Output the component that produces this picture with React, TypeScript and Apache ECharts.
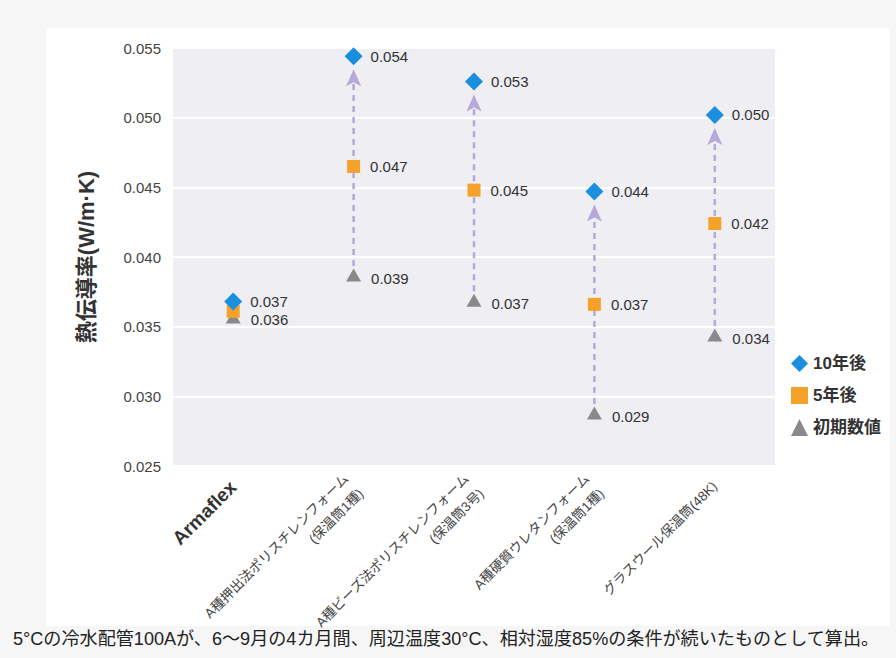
import React, { useEffect, useRef } from "react";
import * as echarts from "echarts";

const categories = [
  "Armaflex",
  "A種押出法ポリスチレンフォーム\n(保温筒1種)",
  "A種ビーズ法ポリスチレンフォーム\n(保温筒3号)",
  "A種硬質ウレタンフォーム\n(保温筒1種)",
  "グラスウール保温筒(48K)",
];
const after10 = [0.0368, 0.0544, 0.0526, 0.0447, 0.0502];
const after5 = [0.0361, 0.0465, 0.0448, 0.0366, 0.0424];
const initial = [0.0357, 0.0387, 0.0369, 0.0288, 0.0344];
const after10Labels = ["0.037", "0.054", "0.053", "0.044", "0.050"];
const after5Labels = ["", "0.047", "0.045", "0.037", "0.042"];
const initialLabels = ["0.036", "0.039", "0.037", "0.029", "0.034"];
const arrowShown = [false, true, true, true, true];
const yMin = 0.025;
const yMax = 0.055;
const yInterval = 0.005;
const seriesNames = ["10年後", "5年後", "初期数値"];
const yAxisName = "熱伝導率(W/m·K)";
const caption =
  "5°Cの冷水配管100Aが、6〜9月の4カ月間、周辺温度30°C、相対湿度85%の条件が続いたものとして算出。";

const FONT = '"Liberation Sans", "Noto Sans CJK JP", sans-serif';
const BLUE = "#1b8fdf";
const ORANGE = "#f6a12a";
const GRAY = "#8a8a8a";
const LAVENDER = "#b6a8da";

export default function App() {
  const ref = useRef<HTMLDivElement>(null);
  useEffect(() => {
    if (!ref.current) return;
    const chart = echarts.init(ref.current, null, { renderer: "svg" });
    const arrowData = categories
      .map((_, i) => [i, initial[i], after10[i]])
      .filter((_, i) => arrowShown[i]);
    const labelOpt = (labels: string[], dist: number, offset?: number[]) => ({
      show: true,
      position: "right",
      distance: dist,
      offset: offset || [0, 0],
      fontSize: 15,
      color: "#333",
      fontFamily: FONT,
      formatter: (p: any) => labels[p.dataIndex],
    });
    chart.setOption({
      animation: false,
      backgroundColor: "#f6f6f6",
      textStyle: { fontFamily: FONT },
      graphic: [
        {
          type: "rect",
          z: -10,
          shape: { x: 46, y: 28, width: 844, height: 598 },
          style: { fill: "#ffffff" },
          silent: true,
        },
        {
          type: "text",
          left: 13,
          top: 630,
          style: {
            text: caption,
            fontSize: 18.1,
            fill: "#222",
            fontFamily: FONT,
          },
        },
      ],
      grid: {
        left: 173,
        top: 48,
        right: 121,
        bottom: 192,
        show: true,
        backgroundColor: "#eeeef3",
        borderWidth: 0,
      },
      legend: {
        orient: "vertical",
        left: 786,
        top: 350,
        itemGap: 15,
        itemWidth: 17,
        itemHeight: 17,
        textStyle: {
          fontSize: 17,
          fontWeight: "bold",
          color: "#333",
          fontFamily: FONT,
        },
        data: [
          { name: seriesNames[0], icon: "diamond" },
          { name: seriesNames[1], icon: "rect" },
          { name: seriesNames[2], icon: "triangle" },
        ],
      },
      xAxis: {
        type: "category",
        data: categories,
        axisLine: { show: false },
        axisTick: { show: false },
        splitLine: { show: false },
        axisLabel: {
          rotate: 45,
          margin: 18,
          interval: 0,
          align: "right",
          verticalAlign: "middle",
          fontSize: 13.5,
          lineHeight: 21,
          color: "#444",
          fontFamily: FONT,
          formatter: (v: string) => (v === "Armaflex" ? "{a|Armaflex}" : v),
          rich: {
            a: {
              fontSize: 19,
              fontWeight: "bold",
              color: "#333",
              fontFamily: FONT,
            },
          },
        },
      },
      yAxis: {
        type: "value",
        min: yMin,
        max: yMax,
        interval: yInterval,
        name: yAxisName,
        nameLocation: "middle",
        nameRotate: 90,
        nameGap: 76,
        nameTextStyle: {
          fontSize: 22,
          fontWeight: "bold",
          color: "#333",
          fontFamily: FONT,
        },
        axisLine: { show: false },
        axisTick: { show: false },
        axisLabel: {
          fontSize: 15,
          color: "#444",
          margin: 12,
          fontFamily: FONT,
          formatter: (v: number) => v.toFixed(3),
        },
        splitLine: { show: true, lineStyle: { color: "#ffffff", width: 2 } },
      },
      series: [
        {
          type: "custom",
          name: "arrows",
          data: arrowData,
          encode: { x: 0, y: [1, 2] },
          z: 1,
          silent: true,
          renderItem: (params: any, api: any) => {
            const i = api.value(0);
            const from = api.coord([i, api.value(1)]);
            const to = api.coord([i, api.value(2)]);
            const x = from[0];
            const tipY = to[1] + 13;
            return {
              type: "group",
              children: [
                {
                  type: "line",
                  shape: { x1: x, y1: from[1] - 9, x2: x, y2: tipY + 14 },
                  style: {
                    stroke: LAVENDER,
                    lineWidth: 2.5,
                    lineDash: [6, 5],
                  },
                },
                {
                  type: "polygon",
                  shape: {
                    points: [
                      [x, tipY],
                      [x + 7.5, tipY + 17],
                      [x, tipY + 13],
                      [x - 7.5, tipY + 17],
                    ],
                  },
                  style: { fill: LAVENDER },
                },
              ],
            };
          },
        },
        {
          type: "scatter",
          name: seriesNames[2],
          data: initial,
          symbol: "triangle",
          symbolSize: [15, 13],
          itemStyle: { color: GRAY, opacity: 1 },
          z: 3,
          label: labelOpt(initialLabels, 10, [0, 3]),
        },
        {
          type: "scatter",
          name: seriesNames[1],
          data: after5,
          symbol: "rect",
          symbolSize: 13,
          itemStyle: { color: ORANGE, opacity: 1 },
          z: 4,
          label: labelOpt(after5Labels, 10),
        },
        {
          type: "scatter",
          name: seriesNames[0],
          data: after10,
          symbol: "diamond",
          symbolSize: 18,
          itemStyle: { color: BLUE, opacity: 1 },
          z: 5,
          label: labelOpt(after10Labels, 8),
        },
      ],
    });
    return () => chart.dispose();
  }, []);
  return (
    <div
      ref={ref}
      style={{ position: "fixed", left: 0, top: 0, width: 896, height: 658 }}
    />
  );
}
